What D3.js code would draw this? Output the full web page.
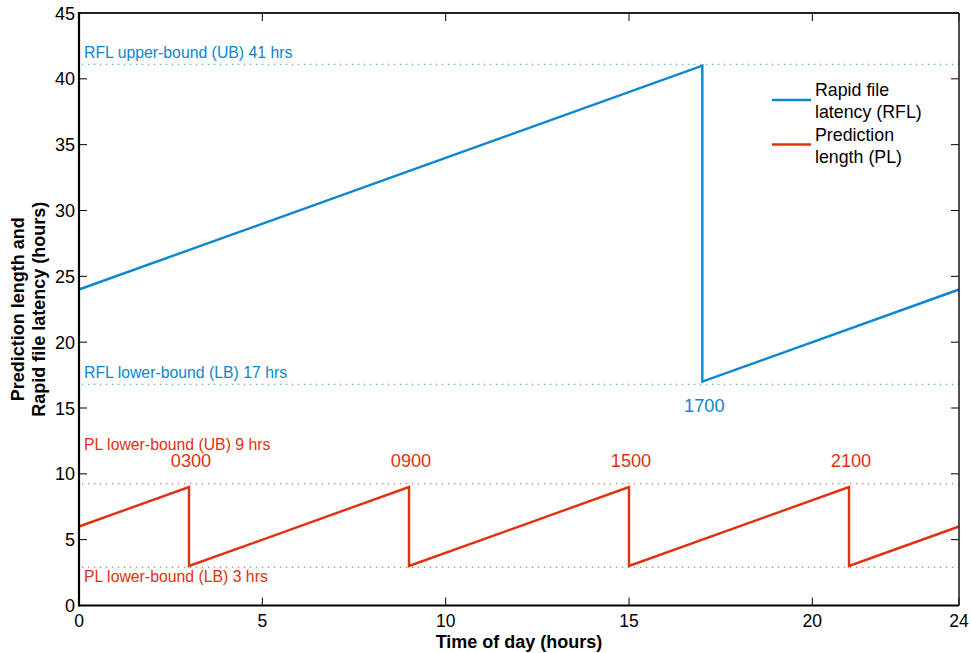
<!DOCTYPE html>
<html>
<head>
<meta charset="utf-8">
<script src="https://cdn.jsdelivr.net/npm/d3@7"></script>
<style>
  body { margin: 0; background: #fff; }
  svg text { font-family: "Liberation Sans", Arial, Helvetica, sans-serif; }
</style>
</head>
<body>
<svg id="chart" width="971" height="653"></svg>
<script>
// Time of day (hours) and series values
const rflHours  = [0, 17, 17, 24];
const rflValues = [24, 41, 17, 24];
const plHours   = [0, 3, 3, 9, 9, 15, 15, 21, 21, 24];
const plValues  = [6, 9, 3, 9, 3, 9, 3, 9, 3, 6];

// Bound reference lines
const boundNames  = ["RFL upper-bound (UB) 41 hrs", "RFL lower-bound (LB) 17 hrs", "PL lower-bound (UB) 9 hrs", "PL lower-bound (LB) 3 hrs"];
const boundValues = [41.1, 16.8, 9.25, 2.9];
const boundSeries = ["rfl", "rfl", "pl", "pl"];

// Reset time annotations
const resetLabels = ["0300", "0900", "1500", "2100", "1700"];
const resetHours  = [3, 9, 15, 21, 17];
const resetValues = [9, 9, 9, 9, 17];
const resetSeries = ["pl", "pl", "pl", "pl", "rfl"];

const xTicks = [0, 5, 10, 15, 20, 24];
const yTicks = [0, 5, 10, 15, 20, 25, 30, 35, 40, 45];

const legendNames = [["Rapid file", "latency (RFL)"], ["Prediction", "length (PL)"]];

const colors = { rfl: "#0b86cf", pl: "#e0310f" };
const light  = { rfl: "#4fb0e8", pl: "#f06a5a" };

const svg = d3.select("#chart");
const L = 79, R = 959, T = 13, B = 605.5;
const x = d3.scaleLinear().domain([0, 24]).range([L, R]);
const y = d3.scaleLinear().domain([0, 45]).range([B, T]);

// dotted bound lines
boundValues.forEach((v, i) => {
  svg.append("line")
    .attr("x1", x(0) + 3).attr("x2", x(24))
    .attr("y1", y(v)).attr("y2", y(v))
    .attr("stroke", light[boundSeries[i]])
    .attr("stroke-width", 1.2)
    .attr("stroke-dasharray", "1.2,4.8");
});

// series lines
const line = d3.line().x(d => x(d[0])).y(d => y(d[1]));
svg.append("path")
  .datum(rflHours.map((h, i) => [h, rflValues[i]]))
  .attr("d", line).attr("fill", "none")
  .attr("stroke", colors.rfl).attr("stroke-width", 2.4)
  .attr("stroke-linejoin", "miter");
svg.append("path")
  .datum(plHours.map((h, i) => [h, plValues[i]]))
  .attr("d", line).attr("fill", "none")
  .attr("stroke", colors.pl).attr("stroke-width", 2.4)
  .attr("stroke-linejoin", "miter");

// bound labels
const boundLabelY = [y(41.1) - 6, y(16.8) - 6, y(9.25) - 34, y(2.9) + 15];
boundNames.forEach((t, i) => {
  svg.append("text")
    .attr("x", 84).attr("y", boundLabelY[i])
    .attr("font-size", 15.8)
    .attr("fill", colors[boundSeries[i]])
    .text(t);
});

// reset annotations
resetLabels.forEach((t, i) => {
  const above = resetSeries[i] === "pl";
  svg.append("text")
    .attr("x", x(resetHours[i]) + 2)
    .attr("y", above ? y(resetValues[i]) - 20 : y(resetValues[i]) + 30)
    .attr("text-anchor", "middle")
    .attr("font-size", 18.2)
    .attr("fill", colors[resetSeries[i]])
    .text(t);
});

// axes box with inward ticks
const ax = svg.append("g").attr("stroke", "#000");
const tickLen = 8;
xTicks.forEach(v => {
  ax.append("line").attr("x1", x(v)).attr("x2", x(v)).attr("y1", B).attr("y2", B - tickLen).attr("stroke-width", 1);
  ax.append("line").attr("x1", x(v)).attr("x2", x(v)).attr("y1", T).attr("y2", T + tickLen).attr("stroke-width", 1);
});
yTicks.forEach(v => {
  ax.append("line").attr("x1", L).attr("x2", L + tickLen).attr("y1", y(v)).attr("y2", y(v)).attr("stroke-width", 1);
  ax.append("line").attr("x1", R).attr("x2", R - tickLen).attr("y1", y(v)).attr("y2", y(v)).attr("stroke-width", 1);
});
ax.append("line").attr("x1", L).attr("x2", R).attr("y1", T).attr("y2", T).attr("stroke-width", 1.8).attr("stroke", "#222");
ax.append("line").attr("x1", R).attr("x2", R).attr("y1", T).attr("y2", B).attr("stroke-width", 1.6).attr("stroke", "#222");
ax.append("line").attr("x1", L).attr("x2", R).attr("y1", B).attr("y2", B).attr("stroke-width", 2.2);
ax.append("line").attr("x1", L).attr("x2", L).attr("y1", T - 1).attr("y2", B + 1).attr("stroke-width", 2.2);

// tick labels
xTicks.forEach(v => {
  svg.append("text").attr("x", x(v)).attr("y", 627)
    .attr("text-anchor", "middle").attr("font-size", 17.5).attr("fill", "#000").text(v);
});
yTicks.forEach(v => {
  svg.append("text").attr("x", L - 4).attr("y", y(v) + 6.5)
    .attr("text-anchor", "end").attr("font-size", 18).attr("fill", "#000").text(v);
});

// axis titles
svg.append("text").attr("x", (L + R) / 2).attr("y", 647.5)
  .attr("text-anchor", "middle").attr("font-size", 18).attr("font-weight", "bold")
  .text("Time of day (hours)");
const yt = svg.append("text")
  .attr("transform", `translate(0,${(T + B) / 2}) rotate(-90)`)
  .attr("text-anchor", "middle").attr("font-size", 18).attr("font-weight", "bold");
yt.append("tspan").attr("x", 0).attr("y", 24).text("Prediction length and");
yt.append("tspan").attr("x", 0).attr("y", 45).text("Rapid file latency (hours)");

// legend
const legendKeys = ["rfl", "pl"];
legendKeys.forEach((k, i) => {
  const cy = 100 + i * 44.5;
  svg.append("line").attr("x1", 772).attr("x2", 811).attr("y1", cy).attr("y2", cy)
    .attr("stroke", colors[k]).attr("stroke-width", 2.4);
  legendNames[i].forEach((t, j) => {
    svg.append("text").attr("x", 815).attr("y", cy - 4 + j * 22)
      .attr("font-size", 17.8).attr("fill", "#000").text(t);
  });
});
</script>
</body>
</html>
